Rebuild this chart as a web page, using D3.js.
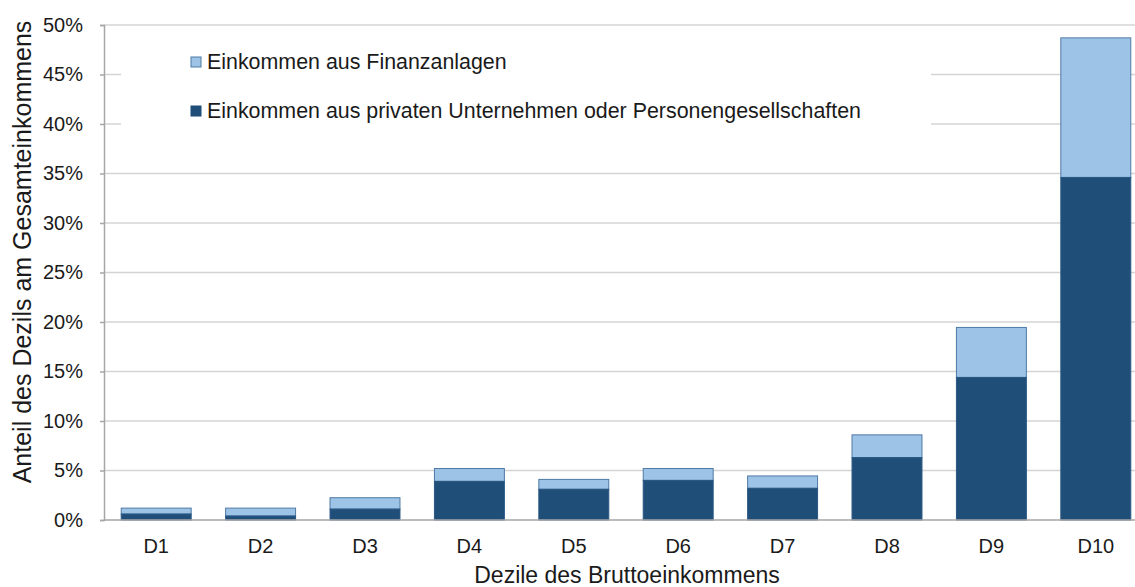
<!DOCTYPE html>
<html>
<head>
<meta charset="utf-8">
<script src="https://cdn.jsdelivr.net/npm/d3@7"></script>
<style>
    body { margin: 0; background: #fff; }
    text { font-family: "Liberation Sans", Arial, sans-serif; fill: #1a1a1a; }
    .grid line { stroke: #d4d4d4; stroke-width: 1.5; }
    .axis path, .axis line { stroke: #a6a6a6; stroke-width: 1.5; }
</style>
</head>
<body>
<div id="chart"></div>
<script>
let categories = ["D1", "D2", "D3", "D4", "D5", "D6", "D7", "D8", "D9", "D10"];
// Anteil in %
let unternehmen = [0.6, 0.4, 1.1, 3.9, 3.1, 4.0, 3.2, 6.3, 14.4, 34.6];
let finanzanlagen = [0.6, 0.8, 1.15, 1.3, 1.0, 1.2, 1.25, 2.3, 5.05, 14.1];
let yTicks = [0, 5, 10, 15, 20, 25, 30, 35, 40, 45, 50];
let seriesNames = ["Einkommen aus Finanzanlagen", "Einkommen aus privaten Unternehmen oder Personengesellschaften"];

let width = 1135, height = 587;
let margin = {top: 25, right: -13, bottom: 67, left: 104};

let svg = d3.select("#chart")
    .append("svg")
    .attr("width", width)
    .attr("height", height);

let x = d3.scaleBand()
    .domain(categories)
    .range([margin.left, width - margin.right])
    .paddingInner(0.33)
    .paddingOuter(0.165);

let y = d3.scaleLinear()
    .domain([0, 50])
    .range([height - margin.bottom, margin.top]);

// gridlines
svg.append("g")
    .attr("class", "grid")
    .selectAll("line")
    .data(yTicks.filter(d => d > 0))
    .enter()
    .append("line")
    .attr("x1", margin.left)
    .attr("x2", width)
    .attr("y1", d => y(d))
    .attr("y2", d => y(d));

// legend background hides the gridlines behind it
svg.append("rect")
    .attr("x", 121)
    .attr("y", y(48))
    .attr("width", 810)
    .attr("height", y(36) - y(48))
    .attr("fill", "#fff");

let data = categories.map((c, i) => ({key: c, u: unternehmen[i], f: finanzanlagen[i]}));

let bars = svg.append("g")
    .selectAll("g")
    .data(data)
    .enter()
    .append("g");

bars.append("rect")
    .attr("x", d => x(d.key))
    .attr("width", x.bandwidth())
    .attr("y", d => y(d.u + d.f))
    .attr("height", d => y(d.u) - y(d.u + d.f))
    .attr("fill", "#9dc3e6")
    .attr("stroke", "#4f7aa6")
    .attr("stroke-width", 1);

bars.append("rect")
    .attr("x", d => x(d.key))
    .attr("width", x.bandwidth())
    .attr("y", d => y(d.u))
    .attr("height", d => y(0) - y(d.u))
    .attr("fill", "#1f4e79")
    .attr("stroke", "#2a5783")
    .attr("stroke-width", 1);

// axes
let yAxis = d3.axisLeft(y)
    .tickValues(yTicks)
    .tickSize(4)
    .tickPadding(17)
    .tickFormat(d => d + "%");

svg.append("g")
    .attr("class", "axis")
    .attr("transform", "translate(" + margin.left + ",0)")
    .call(yAxis)
    .call(g => g.selectAll("text").style("font-size", "20px"));

let xAxis = d3.axisBottom(x)
    .tickSize(0)
    .tickPadding(19);

svg.append("g")
    .attr("class", "axis")
    .attr("transform", "translate(0," + y(0) + ")")
    .call(xAxis)
    .call(g => g.select(".domain").attr("d", "M" + margin.left + ",0H" + width))
    .call(g => g.selectAll("text").style("font-size", "20px"));

// axis titles
svg.append("text")
    .attr("x", 627)
    .attr("y", 583)
    .attr("text-anchor", "middle")
    .style("font-size", "23px")
    .text("Dezile des Bruttoeinkommens");

svg.append("text")
    .attr("transform", "translate(31," + 252 + ") rotate(-90)")
    .attr("text-anchor", "middle")
    .style("font-size", "25px")
    .text("Anteil des Dezils am Gesamteinkommens");

// legend
let legendColors = ["#9dc3e6", "#1f4e79"];
let legendY = [62, 111];

let legend = svg.append("g")
    .selectAll("g")
    .data(seriesNames)
    .enter()
    .append("g")
    .attr("transform", (d, i) => "translate(191," + legendY[i] + ")");

legend.append("rect")
    .attr("x", 0)
    .attr("y", -5)
    .attr("width", 10)
    .attr("height", 10)
    .attr("fill", (d, i) => legendColors[i])
    .attr("stroke", (d, i) => i === 0 ? "#4f7aa6" : legendColors[i]);

legend.append("text")
    .attr("x", 16)
    .attr("y", 7)
    .style("font-size", "21.4px")
    .text(d => d);
</script>
</body>
</html>
